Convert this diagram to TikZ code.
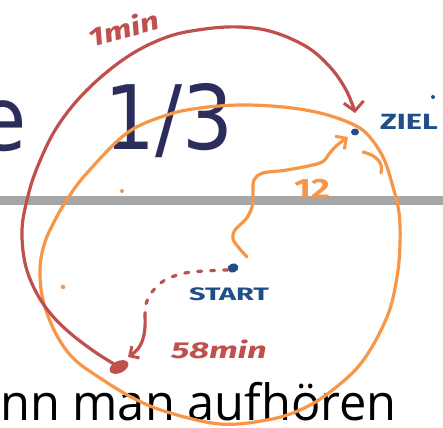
\documentclass[tikz,border=0pt]{standalone}
\usepackage{fontspec}
\newfontfamily\titlefont{DejaVu Sans}
\newfontfamily\bodyfont{Open Sans}
\newfontfamily\hand{Fira Sans}
\usetikzlibrary{arrows.meta,shapes.geometric}
\definecolor{inkred}{HTML}{C0504D}
\definecolor{inkorange}{HTML}{F79646}
\definecolor{inkblue}{HTML}{1F4E88}
\definecolor{navy}{HTML}{2D2D5B}
\definecolor{barcol}{HTML}{A6A6A6}
\tikzset{
  redline/.style={draw=inkred, line width=3.2pt, line cap=round, line join=round},
  orangeline/.style={draw=inkorange, line width=3.2pt, line cap=round, line join=round},
  handtext/.style={inner sep=0pt, font=\hand\bfseries\itshape},
  bluedot/.style={ellipse, fill=inkblue, inner sep=0pt},
  barb/.style={-{Straight Barb[length=9pt,width=20pt,line width=3pt]}}
}
\begin{document}
\begin{tikzpicture}[x=1pt,y=-1pt]
\useasboundingbox (0,0) rectangle (443,427);
\clip (0,0) rectangle (443,427);
\fill[white] (0,0) rectangle (443,427);
% slide content
\node[font=\titlefont\fontsize{89}{89}\selectfont, text=navy, anchor=base east, inner sep=0pt, xscale=0.92] (etxt) at (27,151) {e};
\node[font=\titlefont\fontsize{89}{89}\selectfont, text=navy, anchor=base west, inner sep=0pt, xscale=0.9] (frac) at (104,150) {1/3};
\fill[barcol] (0,196) rectangle (443,205);
\node[font=\bodyfont\fontsize{50}{50}\selectfont, text=black, anchor=base east, inner sep=0pt, xscale=0.975] (bottom) at (397,420) {nn man aufhören};
% points
\node[bluedot, minimum width=11pt, minimum height=9pt, rotate=20] (start) at (233,268) {};
\node[bluedot, minimum width=8pt, minimum height=7pt] (ziel) at (355,132) {};
\node[circle, fill=inkblue, inner sep=0pt, minimum size=4pt] (zdot) at (433,97) {};
\node[ellipse, fill=inkred, inner sep=0pt, minimum width=20pt, minimum height=12pt, rotate=25] (blob) at (119,367) {};
\coordinate (redtip) at (355,113);
\coordinate (otip) at (348,137);
\coordinate (ostart) at (247,257);
\coordinate (dmid) at (145,316);
\coordinate (dtip) at (128,357);
% big orange loop
\draw[orangeline] plot[smooth cycle, tension=0.6] coordinates {(200,108) (240,105) (283,107) (320,113) (350,123) (367,134) (383,157) (393,187) (399,213) (400,243) (397,277) (387,317) (362,362) (330,392) (300,410) (267,420) (220,424) (167,412) (133,398) (100,378) (73,358) (55,332) (43,300) (40,270) (44,245) (54,222) (68,198) (87,173) (127,133) (167,115)};
\draw[orangeline] (363,152) .. controls (375,155) and (384,162) .. (381,173);
\fill[inkorange] (122,191) circle (2pt);
\fill[inkorange] (63,287) circle (2.2pt);
% red big arrow
\draw[redline, barb] plot[smooth, tension=0.6] coordinates {(blob) (95,352) (70,333) (50,313) (35,290) (25,263) (22,230) (27,200) (37,168) (57,127) (87,90) (127,57) (167,37) (205,29) (240,27) (273,32) (307,47) (330,67) (345,88) (353,106) (redtip)};
% red dotted arrow
\draw[redline, dash pattern=on 4pt off 9pt] plot[smooth, tension=0.6] coordinates {(start.west) (205,271) (185,273) (165,280) (152,292) (146,304) (dmid)};
\draw[redline, -{Straight Barb[length=7pt,width=14pt,line width=3pt]}] (dmid) .. controls (146,336) and (142,348) .. (dtip);
% orange path start->ziel
\draw[orangeline, -{Straight Barb[length=8pt,width=16pt,line width=3pt]}] plot[smooth, tension=0.55] coordinates {(ostart) (239,248) (233,239) (235,230) (246,219) (252,207) (253,193) (254,180) (263,173) (287,170) (320,163) (329,154) (336,146) (otip)};
% labels
\node[handtext, text=inkred, font=\hand\bfseries\itshape\fontsize{26}{26}\selectfont, rotate=15, xscale=1.3] (l1min) at (124,28) {1min};
\node[handtext, text=inkred, font=\hand\bfseries\itshape\fontsize{23}{23}\selectfont, xscale=1.5] (l58) at (219,349) {58min};
\node[handtext, text=inkblue, font=\hand\bfseries\fontsize{18}{18}\selectfont, xscale=1.6] (lstart) at (229,294) {START};
\node[handtext, text=inkblue, font=\hand\bfseries\fontsize{22}{22}\selectfont, xscale=1.4] (lziel) at (409,122) {ZIEL};
\node[handtext, text=inkorange, font=\hand\bfseries\fontsize{28}{28}\selectfont, xscale=1.3] (l12) at (312,189) {12};
\end{tikzpicture}
\end{document}
